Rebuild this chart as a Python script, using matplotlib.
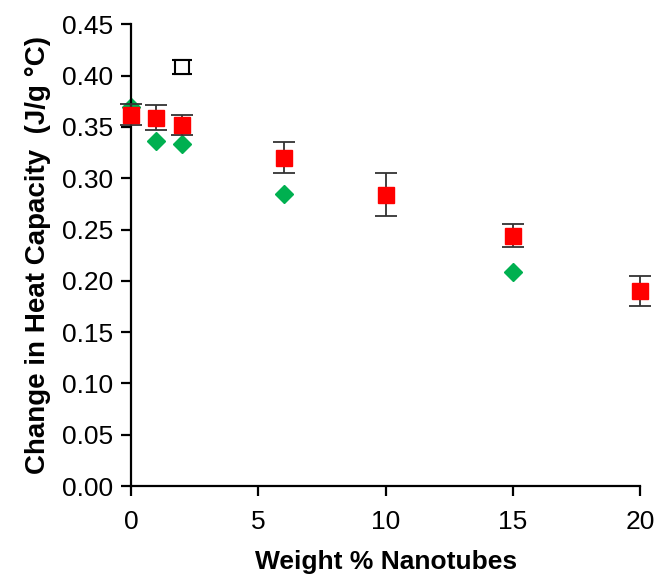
import matplotlib.pyplot as plt

plt.rcParams['font.family'] = ['Liberation Sans', 'DejaVu Sans']

# measured (red squares with error bars)
x_red = [0, 1, 2, 6, 10, 15, 20]
y_red = [0.362, 0.359, 0.352, 0.320, 0.284, 0.244, 0.190]
err_red = [0.010, 0.012, 0.010, 0.015, 0.021, 0.011, 0.015]

# green diamonds
x_green = [0, 1, 2, 6, 15]
y_green = [0.369, 0.336, 0.333, 0.285, 0.209]

# open square
x_open = [2]
y_open = [0.408]
err_open = [0.007]

fig = plt.figure(figsize=(6.58, 5.76), dpi=100)
ax = fig.add_axes([0.199, 0.156, 0.774, 0.802])

ax.plot(x_green, y_green, linestyle='none', marker='D', markersize=9,
        color='#00B050', markeredgecolor='#00B050', zorder=2)
ax.errorbar(x_red, y_red, yerr=err_red, fmt='s', markersize=12,
            color='#FF0000', markeredgecolor='#FF0000', ecolor='#333333',
            elinewidth=1.3, capsize=8, capthick=1.3, zorder=3)
ax.errorbar(x_open, y_open, yerr=err_open, fmt='s', markersize=10,
            markerfacecolor='white', markeredgecolor='black', markeredgewidth=1.5,
            ecolor='black', elinewidth=1.3, capsize=7, capthick=1.5, zorder=3)

ax.set_xlim(0, 20)
ax.set_ylim(0, 0.45)
ax.set_xticks([0, 5, 10, 15, 20])
ax.set_yticks([i * 0.05 for i in range(10)])
ax.yaxis.set_major_formatter(plt.FormatStrFormatter('%.2f'))

for side in ['top', 'right']:
    ax.spines[side].set_visible(False)
for side in ['left', 'bottom']:
    ax.spines[side].set_linewidth(1.6)
    ax.spines[side].set_color('black')

ax.tick_params(direction='out', length=7, width=1.6, labelsize=19)
ax.tick_params(axis='x', pad=10)
ax.tick_params(axis='y', pad=6)
ax.set_xlabel('Weight % Nanotubes', fontsize=19, fontweight='bold', labelpad=12)
ax.set_ylabel('Change in Heat Capacity  (J/g \u00b0C)', fontsize=20, fontweight='bold', labelpad=8)

for artist in ax.get_children():
    try:
        artist.set_clip_on(False)
    except Exception:
        pass

plt.savefig('out.png', dpi=100)
